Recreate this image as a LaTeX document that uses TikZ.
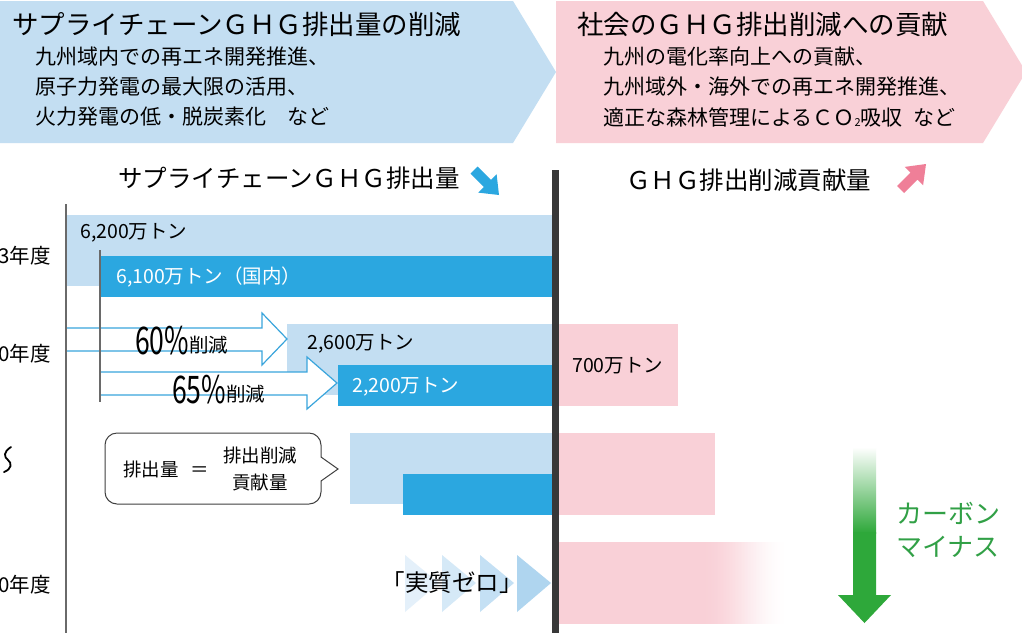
\documentclass[tikz,border=0pt]{standalone}
\usepackage{fontspec}
\usepackage{graphicx}
\setmainfont{Noto Sans CJK JP}
\newcommand{\myfs}[1]{\fontsize{#1}{#1}\selectfont}
\definecolor{lblue}{HTML}{C3DEF2}
\definecolor{dblue}{HTML}{2BA7E0}
\definecolor{pinkc}{HTML}{F9D0D7}
\definecolor{pinkarrow}{HTML}{EF7F98}
\definecolor{arrowblue}{HTML}{3AA5DC}
\definecolor{darkline}{HTML}{383838}
\definecolor{axisgray}{HTML}{6A6A6A}
\definecolor{greenc}{HTML}{2EA83A}
\definecolor{greent}{HTML}{31A046}
\definecolor{triA}{HTML}{E4F0FA}
\definecolor{triB}{HTML}{D5E9F7}
\definecolor{triC}{HTML}{C4E0F4}
\definecolor{triD}{HTML}{AFD5EF}
\begin{document}
\begin{tikzpicture}[x=1pt,y=-1pt,
  tx/.style={inner sep=0pt,anchor=west,text=black},
  titletx/.style={tx,font=\myfs{26.5}},
  subtx/.style={tx,font=\myfs{21}},
  headtx/.style={tx,font=\myfs{24.5}},
  bartx/.style={tx,font=\myfs{19.5}},
  yeartx/.style={inner sep=0pt,anchor=east,font=\myfs{20.5}},
  outarrow/.style={fill=white,draw=arrowblue,line width=1.2pt,line join=miter},
  axisline/.style={draw=axisgray,line width=1.3pt},
  greentx/.style={tx,text=greent,font=\myfs{26}},
]
\useasboundingbox (0,0) rectangle (1022,633);
\clip (0,0) rectangle (1022,633);
\fill[white] (0,0) rectangle (1022,633);

% banners
\fill[lblue] (0,1) -- (513,1) -- (556,72) -- (513,143) -- (0,143) -- cycle;
\fill[pinkc] (556,1) -- (983,1) -- (1026,72) -- (983,143) -- (556,143) -- cycle;
\node[titletx] (bt) at (12,24) {サプライチェーンＧＨＧ排出量の削減};
\node[subtx] (b1) at (35,57) {九州域内での再エネ開発推進、};
\node[subtx] (b2) at (35,87) {原子力発電の最大限の活用、};
\node[subtx] (b3) at (35,117) {火力発電の低・脱炭素化　など};
\node[titletx] (pt) at (577,24) {社会のＧＨＧ排出削減への貢献};
\node[subtx] (p1) at (603,57) {九州の電化率向上への貢献、};
\node[subtx] (p2) at (603,87) {九州域外・海外での再エネ開発推進、};
\node[subtx] (p3) at (603,117) {適正な森林管理によるＣＯ\raisebox{-1pt}{\myfs{11}2}吸収\hspace{0.5em}など};

% headings
\node[headtx] (h1) at (118,178) {サプライチェーンＧＨＧ排出量};
\node[headtx] (h2) at (626,180) {ＧＨＧ排出削減貢献量};
\fill[dblue] (477.5,166.5) -- (491,179.9) -- (496.6,174.2) -- (499,195) -- (478.2,192.6) -- (483.9,187) -- (470.5,173.5) -- cycle;
\fill[pinkarrow] (904,193) -- (917.4,179.6) -- (923.1,185.3) -- (926,164) -- (904.7,166.9) -- (910.4,172.6) -- (897,186) -- cycle;

% bars
\fill[lblue] (66,215) rectangle (553,286);
\fill[dblue] (100,256) rectangle (553,297);
\fill[lblue] (287,324) rectangle (553,395);
\fill[dblue] (338,365) rectangle (553,406);
\fill[pinkc] (559,324) rectangle (678,406);
\fill[lblue] (350,433) rectangle (553,504);
\fill[dblue] (403,474) rectangle (553,515);
\fill[pinkc] (559,433) rectangle (715,515);
\fill[pinkc] (559,542) rectangle (701,624);
\foreach \i in {0,...,59} {
  \pgfmathsetmacro{\pct}{50*(1+cos(180*\i/59))}
  \fill[pinkc!\pct!white] ({700+\i*1.5},542) rectangle ({700+\i*1.5+1.6},624);
}

% reduction arrows
\draw[outarrow] (66,328) -- (262,328) -- (262,313) -- (287,339) -- (262,365) -- (262,351) -- (66,351) -- cycle;
\draw[outarrow] (100,372) -- (307,372) -- (307,357) -- (337,383) -- (307,409) -- (307,395) -- (100,395) -- cycle;

% axis lines
\draw[axisline] (66,204) -- (66,633);
\draw[axisline] (100,250) -- (100,402);
\fill[darkline] (552,170) rectangle (559,633);

% year labels
\node[yeartx] (y1) at (51,256) {3年度};
\node[yeartx] (y2) at (51,354) {0年度};
\node[yeartx] (y3) at (51,585) {0年度};
\draw[black,line width=1.8pt,line cap=round] (11,447) .. controls (3,452) and (4,457) .. (8,460) .. controls (12,463) and (12,469) .. (4,472);

% bar labels
\node[bartx] (v1) at (80,233) {6,200万トン};
\node[bartx,text=white] (v2) at (116,277) {6,100万トン（国内）};
\node[bartx] (v3) at (307,344) {2,600万トン};
\node[bartx,text=white] (v4) at (352,387) {2,200万トン};
\node[bartx] (v5) at (572,366) {700万トン};
\node[inner sep=0pt,anchor=base west] (r60) at (135,354) {\scalebox{0.7}[1]{\myfs{38}60\%}\raisebox{2pt}{\myfs{19.5}削減}};
\node[inner sep=0pt,anchor=base west] (r65) at (172,403) {\scalebox{0.7}[1]{\myfs{38}65\%}\raisebox{2pt}{\myfs{19.5}削減}};

% callout
\node[draw=black!75,line width=1pt,rounded corners=12pt,minimum width=216pt,minimum height=71pt,inner sep=0pt] (cb) at (213,468.5) {};
\fill[white] (320,457) -- (338,469) -- (320,481) -- cycle;
\draw[black!75,line width=1pt,line join=miter] (321,457) -- (338,469) -- (321,481);
\node[tx,font=\myfs{18.5}] (c1) at (123,469) {排出量\hspace{12pt}＝};
\node[inner sep=0pt,align=center,font=\fontsize{18.5}{27}\selectfont,text=black] (c2) at (260,469) {排出削減\\貢献量};

% net zero triangles
\fill[triA] (405,555) -- (439,583) -- (405,612) -- cycle;
\fill[triB] (442,555) -- (476,583) -- (442,612) -- cycle;
\fill[triC] (480,555) -- (514,583) -- (480,612) -- cycle;
\fill[triD] (517,555) -- (551,583) -- (517,612) -- cycle;
\node[inner sep=0pt,font=\myfs{23.5}] (nz) at (452,583) {「実質ゼロ」};

% carbon minus arrow
\shade[top color=white,bottom color=greenc] (853,447) rectangle (876,533);
\fill[greenc] (853,532) -- (876,532) -- (876,595) -- (891,595) -- (864.5,623) -- (838,595) -- (853,595) -- cycle;
\node[greentx] (g1) at (896,513) {カーボン};
\node[greentx] (g2) at (896,547) {マイナス};
\end{tikzpicture}
\end{document}
